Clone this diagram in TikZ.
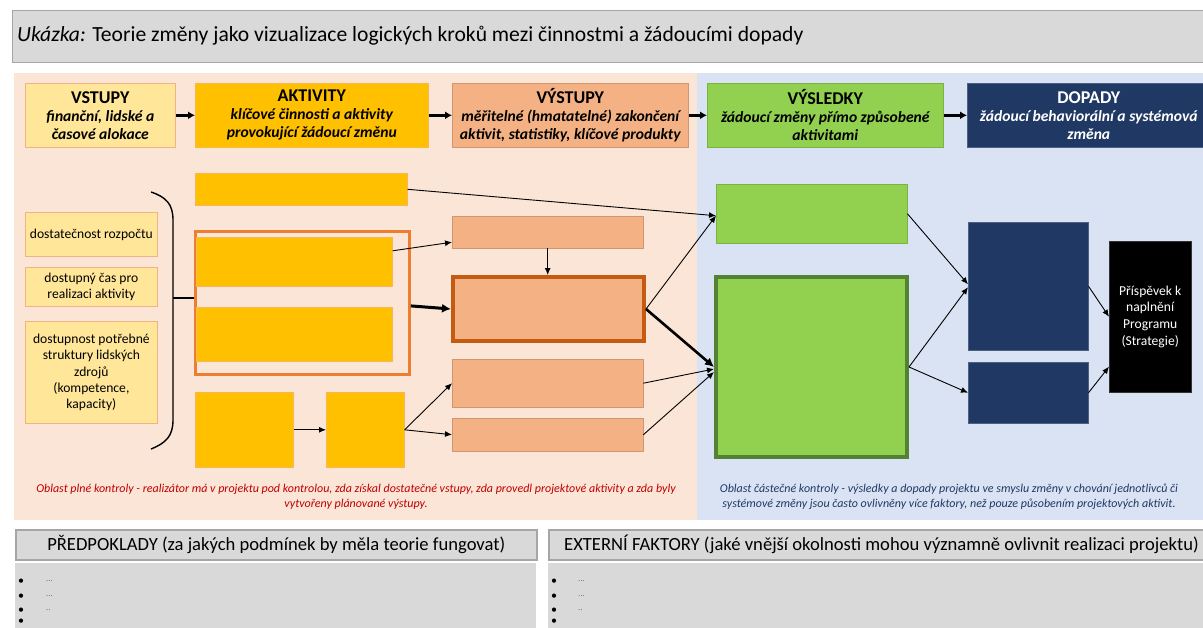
\documentclass[tikz,border=0pt]{standalone}
\usepackage{fontspec}
\setmainfont{Carlito}
\usetikzlibrary{arrows.meta}
\definecolor{hdrgray}{HTML}{D9D9D9}
\definecolor{hdrline}{HTML}{A6A6A6}
\definecolor{ctrlbg}{HTML}{FBE5D6}
\definecolor{partbg}{HTML}{DAE3F3}
\definecolor{inyellow}{HTML}{FFE699}
\definecolor{actyellow}{HTML}{FFC000}
\definecolor{outorange}{HTML}{F4B183}
\definecolor{outdark}{HTML}{C55A11}
\definecolor{grpframe}{HTML}{ED7D31}
\definecolor{resgreen}{HTML}{92D050}
\definecolor{resdark}{HTML}{548235}
\definecolor{impnavy}{HTML}{203864}
\definecolor{capred}{HTML}{C00000}
\newcommand\pbox[7]{\node[#2,anchor=north west,inner sep=0pt,align=center,minimum width={#5-#3},minimum height={#6-#4}] (#1) at (#3,#4) {#7};}
\tikzset{
  inbox/.style={fill=inyellow,draw=outorange,line width=0.8pt,font=\fontsize{13.6}{16.3}\selectfont},
  actbox/.style={fill=actyellow,draw=outorange!70!actyellow,line width=0.6pt},
  outbox/.style={fill=outorange,draw=outorange!85!black,line width=0.4pt},
  resbox/.style={fill=resgreen,draw=resgreen!85!black,line width=0.4pt},
  impbox/.style={fill=impnavy,draw=impnavy!80!white,line width=0.5pt},
  hdrbox/.style={line width=0.6pt,font=\fontsize{15.6}{18}\selectfont\bfseries\itshape},
  graybar/.style={fill=hdrgray,draw=hdrline,line width=1.5pt},
  conn/.style={line width=0.9pt,-{Latex[length=7pt,width=6pt]}},
  thickconn/.style={line width=3pt,-{Latex[length=9pt,width=9pt]}},
  midconn/.style={line width=2.6pt,-{Latex[length=9pt,width=9pt]}},
  stepconn/.style={line width=2.4pt,-{Latex[length=7pt,width=8pt]}},
  bul/.style={anchor=west,inner sep=0pt,font=\fontsize{12}{12}\selectfont},
  dots/.style={anchor=west,inner sep=0pt,text=black!55,font=\fontsize{9}{9}\selectfont},
}
\begin{document}
\begin{tikzpicture}[x=1pt,y=-1pt]
\useasboundingbox (0,0) rectangle (1203,627);
\fill[white] (0,0) rectangle (1203,627);
% title
\pbox{title}{graybar,line width=1.2pt}{12}{10}{1215}{62}{}
\node[anchor=west,inner sep=0pt,font=\fontsize{21.6}{24}\selectfont] (titletext) at (17,36) {\textit{Ukázka:} Teorie změny jako vizualizace logických kroků mezi činnostmi a žádoucími dopady};
% regions
\pbox{ctrl}{fill=ctrlbg}{14}{73}{697}{520}{}
\pbox{part}{fill=partbg}{697}{73}{1210}{520}{}
% headers
\pbox{hin}{hdrbox,fill=inyellow,draw=outorange}{25}{83}{175}{147}{{\fontsize{18}{18}\selectfont\upshape VSTUPY}\\finanční, lidské a\\časové alokace}
\pbox{hact}{hdrbox,fill=actyellow,draw=outorange!60!actyellow}{195}{83}{428}{147}{{\fontsize{18}{18}\selectfont\upshape AKTIVITY}\\klíčové činnosti a aktivity\\provokující žádoucí změnu}
\pbox{hout}{hdrbox,fill=outorange,draw=outorange!85!black}{452}{83}{688}{147}{{\fontsize{18}{18}\selectfont\upshape VÝSTUPY}\\měřitelné (hmatatelné) zakončení\\aktivit, statistiky, klíčové produkty}
\pbox{hres}{hdrbox,fill=resgreen,draw=resgreen!85!black}{707}{83}{943}{147}{{\fontsize{18}{18}\selectfont\upshape VÝSLEDKY}\\žádoucí změny přímo způsobené\\aktivitami}
\pbox{himp}{hdrbox,fill=impnavy,draw=impnavy!80!white,text=white}{967}{83}{1210}{147}{{\fontsize{18}{18}\selectfont\upshape DOPADY}\\žádoucí behaviorální a systémová\\změna}
\draw[stepconn] (hin) -- (hact);
\draw[stepconn] (hact) -- (hout);
\draw[stepconn] (hout) -- (hres);
\draw[stepconn] (hres) -- (himp);
% inputs
\pbox{in1}{inbox}{25}{212}{157}{256}{dostatečnost rozpočtu}
\pbox{in2}{inbox}{25}{267}{157}{306}{dostupný čas pro\\realizaci aktivity}
\pbox{in3}{inbox}{25}{321}{157}{423}{dostupnost potřebné\\struktury lidských\\zdrojů\\(kompetence,\\kapacity)}
% brace
\draw[line width=1.4pt] (151,192) .. controls (166,197) and (173,204) .. (173,220) -- (173,420) .. controls (173,436) and (166,443) .. (151,449);
\coordinate (btip) at (173,298);
% activities
\pbox{grp}{draw=grpframe,line width=2.8pt}{194}{230}{408}{373}{}
\pbox{a1}{actbox}{195}{173}{407}{205}{}
\pbox{a2}{actbox}{196}{237}{392}{286}{}
\pbox{a3}{actbox}{196}{307}{392}{361}{}
\pbox{a4}{actbox}{195}{392}{293}{467}{}
\pbox{a5}{actbox}{326}{392}{404}{467}{}
\draw[line width=1.4pt] (btip) -- (btip -| grp.west);
% outputs
\pbox{o1}{outbox}{452}{216}{643}{248}{}
\pbox{o2}{fill=outorange,draw=outdark,line width=4pt}{451}{275}{642}{339}{}
\pbox{o3}{outbox}{452}{359}{643}{407}{}
\pbox{o4}{outbox}{452}{418}{643}{451}{}
% results
\pbox{r1}{resbox}{716}{184}{907}{243}{}
\pbox{r2}{fill=resgreen,draw=resdark,line width=4pt}{714}{275}{905}{455}{}
% impacts
\pbox{i1}{impbox}{968}{222}{1088}{350}{}
\pbox{i2}{impbox}{968}{362}{1088}{423}{}
\pbox{blk}{fill=black,draw=black!80,text=white,font=\fontsize{13.6}{16.7}\selectfont}{1109}{241}{1191}{392}{Příspěvek k\\naplnění\\Programu\\(Strategie)}
% connectors
\draw[conn] (a1.east) -- ([yshift=-2pt]r1.west);
\draw[conn] ([yshift=11pt]a2.east) -- ([yshift=-10pt]o1.west);
\draw[thickconn] ([yshift=-3pt]grp.east) -- (o2.west);
\draw[conn] (o1.south) -- (o1.south |- o2.north);
\draw[conn] (a4.east) -- (a5.west);
\draw[conn] (a5.east) -- (o3.west);
\draw[conn] (a5.east) -- (o4.west);
\draw[conn] (o2.east) -- ([yshift=-2pt]r1.west);
\draw[midconn] (o2.east) -- (r2.west);
\draw[conn] (o3.east) -- ([yshift=-2pt]r2.west);
\draw[conn] (o4.east) -- ([yshift=-5pt]r2.west);
\draw[conn] (r1.east) -- ([yshift=2pt]i1.west);
\draw[conn] (r2.east) -- ([yshift=-1pt]i1.west);
\draw[conn] (r2.east) -- (i2.west);
\draw[conn] (i1.east) -- (blk.west);
\draw[conn] (i2.east) -- ([yshift=-50pt]blk.west);
% captions
\node[align=center,text=capred,font=\fontsize{12}{15}\selectfont\itshape] (capctrl) at (356,497) {Oblast plné kontroly - realizátor má v projektu pod kontrolou, zda získal dostatečné vstupy, zda provedl projektové aktivity a zda byly\\vytvořeny plánované výstupy.};
\node[align=center,text=impnavy,font=\fontsize{12}{15}\selectfont\itshape] (cappart) at (949,497) {Oblast částečné kontroly - výsledky a dopady projektu ve smyslu změny v chování jednotlivců či\\systémové změny jsou často ovlivněny více faktory, než pouze působením projektových aktivit.};
% bottom panels
\pbox{pbody}{fill=hdrgray}{15}{563}{536}{640}{}
\pbox{ebody}{fill=hdrgray}{548}{563}{1215}{640}{}
\pbox{phdr}{graybar,font=\fontsize{18.6}{20}\selectfont}{15}{529}{536}{559}{PŘEDPOKLADY (za jakých podmínek by měla teorie fungovat)}
\pbox{ehdr}{graybar,font=\fontsize{18.6}{20}\selectfont}{548}{529}{1215}{559}{}
\node[anchor=west,inner sep=0pt,font=\fontsize{18.6}{20}\selectfont] (ehdrtext) at (564,544) {EXTERNÍ FAKTORY (jaké vnější okolnosti mohou významně ovlivnit realizaci projektu)};
\node[bul] (pb1) at (18,582) {•}; \node[dots] (pd1) at (46,581) {...};
\node[bul] (pb2) at (18,597) {•}; \node[dots] (pd2) at (46,596) {...};
\node[bul] (pb3) at (18,611) {•}; \node[dots] (pd3) at (46,610) {..};
\node[bul] (pb4) at (18,622) {•};
\node[bul] (eb1) at (551,582) {•}; \node[dots] (ed1) at (578,581) {...};
\node[bul] (eb2) at (551,597) {•}; \node[dots] (ed2) at (578,596) {...};
\node[bul] (eb3) at (551,611) {•}; \node[dots] (ed3) at (578,610) {..};
\node[bul] (eb4) at (551,622) {•};
\end{tikzpicture}
\end{document}
